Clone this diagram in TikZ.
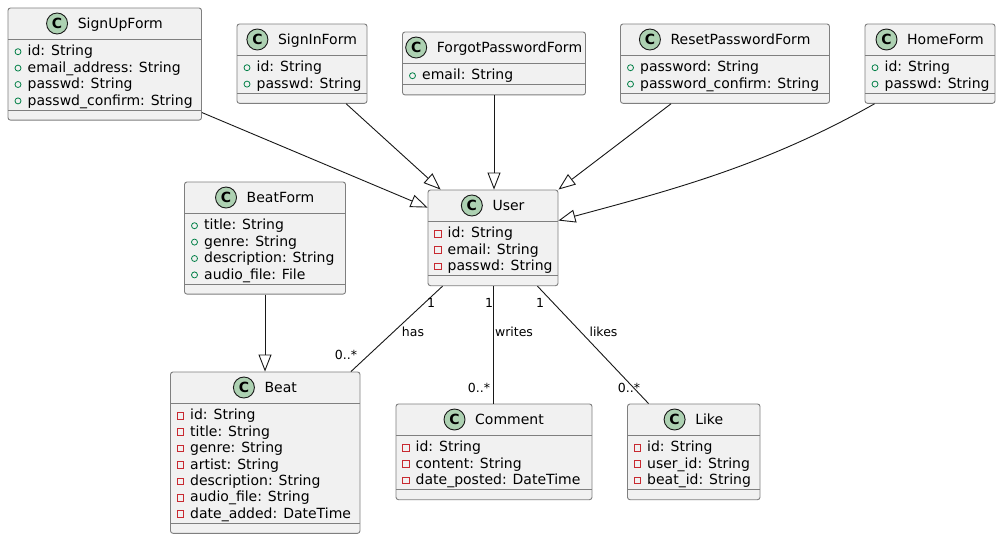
\documentclass[tikz,border=0pt]{standalone}
\usepackage{fontspec}
\setmainfont{DejaVu Sans}
\usetikzlibrary{fit,arrows.meta}
\definecolor{boxfill}{HTML}{F1F1F1}
\definecolor{boxline}{HTML}{7F7F7F}
\definecolor{conline}{HTML}{181818}
\definecolor{cfill}{HTML}{ADD1B2}
\definecolor{pubc}{HTML}{038048}
\definecolor{privc}{HTML}{C82930}
\tikzset{
  classbox/.style={draw=boxline, fill=boxfill, rounded corners=2.5pt, inner sep=0pt, line width=0.9pt},
  sepline/.style={draw=boxline, line width=0.9pt},
  titlet/.style={inner sep=0pt, font=\fontsize{14}{16}\selectfont},
  cicon/.style={circle, draw=conline, fill=cfill, minimum size=21pt, inner sep=0pt, line width=0.9pt, font=\fontsize{14}{16}\selectfont\bfseries},
  attrt/.style={inner sep=0pt, font=\fontsize{14}{16}\selectfont},
  iconp/.style={circle, draw=pubc, minimum size=6pt, inner sep=0pt, line width=0.8pt},
  iconm/.style={rectangle, draw=privc, minimum size=6.5pt, inner sep=0pt, line width=0.8pt},
  gen/.style={draw=conline, line width=0.9pt, -{Triangle[open, length=17pt, width=13pt]}},
  assoc/.style={draw=conline, line width=0.9pt},
  mult/.style={inner sep=0pt, font=\fontsize{12.5}{14}\selectfont},
}
\newcommand\uciconp[1]{\node[iconp] at (#1) {};}
\newcommand\uciconm[1]{\node[iconm] at (#1) {};}
\newcommand\umlclass[7]{%
  \pgfmathsetmacro\ucH{#3+31}%
  \pgfmathsetmacro\ucS{\ucH+16.4*#5+5.5}%
  \pgfmathsetmacro\ucB{\ucS+10}%
  \pgfmathsetmacro\ucX{(#2+#4)/2+15.5}%
  \pgfmathsetmacro\ucY{#3+20.5}%
  \pgfmathsetmacro\ucC{#3+15.5}%
  \node[classbox, fit={(#2,#3) (#4,\ucB)}] (#1) {};
  \draw[sepline] (#2,\ucH) -- (#4,\ucH);
  \draw[sepline] (#2,\ucS) -- (#4,\ucS);
  \node[titlet, anchor=base] (#1-t) at (\ucX,\ucY) {#6};
  \coordinate (#1-c) at (0,\ucC);
  \path (#1-t.west |- #1-c) coordinate (#1-w);
  \node[cicon] (#1-icon) at ([xshift=-20.5pt]#1-w) {C};
  \foreach \vis/\atxt [count=\ui] in {#7} {%
    \pgfmathsetmacro\ucA{\ucH+16.4*\ui+0.5}%
    \csname ucicon\vis\endcsname{#2+10,\ucA-4.2}%
    \node[attrt, anchor=base west] at (#2+19.5,\ucA) {\atxt};
  }%
}
\begin{document}
\begin{tikzpicture}[x=1pt, y=-1pt]
\path[use as bounding box, fill=white] (0,0) rectangle (1001,539);

\umlclass{signup}{8}{8}{201.5}{4}{SignUpForm}{p/id: String, p/email\_address: String, p/passwd: String, p/passwd\_confirm: String}
\umlclass{signin}{237}{24}{367}{2}{SignInForm}{p/id: String, p/passwd: String}
\umlclass{forgot}{402.5}{32}{585.5}{1}{ForgotPasswordForm}{p/email: String}
\umlclass{reset}{620.5}{24}{829.5}{2}{ResetPasswordForm}{p/password: String, p/password\_confirm: String}
\umlclass{home}{865}{24}{995}{2}{HomeForm}{p/id: String, p/passwd: String}
\umlclass{beatform}{184.5}{182}{345.5}{4}{BeatForm}{p/title: String, p/genre: String, p/description: String, p/audio\_file: File}
\umlclass{user}{428}{190}{558}{3}{User}{m/id: String, m/email: String, m/passwd: String}
\umlclass{beat}{170.5}{372}{360}{7}{Beat}{m/id: String, m/title: String, m/genre: String, m/artist: String, m/description: String, m/audio\_file: String, m/date\_added: DateTime}
\umlclass{comment}{396}{404}{592}{3}{Comment}{m/id: String, m/content: String, m/date\_posted: DateTime}
\umlclass{like}{627.5}{404}{760}{3}{Like}{m/id: String, m/user\_id: String, m/beat\_id: String}

% generalizations
\draw[gen] ([yshift=8pt]signup.south east) -- ([yshift=-18pt]user.north west);
\draw[gen] ([xshift=-21.3pt]signin.south east) -- ([xshift=13pt]user.north west);
\draw[gen] (forgot.south) -- (forgot.south |- user.north);
\draw[gen] ([xshift=51pt]reset.south west) -- (user.north east);
\draw[gen] ([xshift=10pt]home.south west) .. controls (765,166) and (668,191) .. ([yshift=-31pt]user.north east);
\draw[gen] (beatform.south) -- (beatform.south |- beat.north);

% associations
\draw[assoc] ([xshift=15pt]user.south west) -- ([xshift=-9.5pt]beat.north east);
\draw[assoc] (user.south) -- (user.south |- comment.north);
\draw[assoc] ([xshift=-21pt]user.south east) -- ([xshift=21.5pt]like.north west);

\node[mult] (m-has-1) at (431,302.5) {1};
\node[mult] (l-has) at (413,332) {has};
\node[mult] (m-has-n) at (346,355) {0..*};
\node[mult] (m-wr-1) at (489,302.5) {1};
\node[mult] (l-wr) at (514,332) {writes};
\node[mult] (m-wr-n) at (479,387.5) {0..*};
\node[mult] (m-lk-1) at (540,302.5) {1};
\node[mult] (l-lk) at (603.5,332) {likes};
\node[mult] (m-lk-n) at (629,388) {0..*};
\end{tikzpicture}
\end{document}
